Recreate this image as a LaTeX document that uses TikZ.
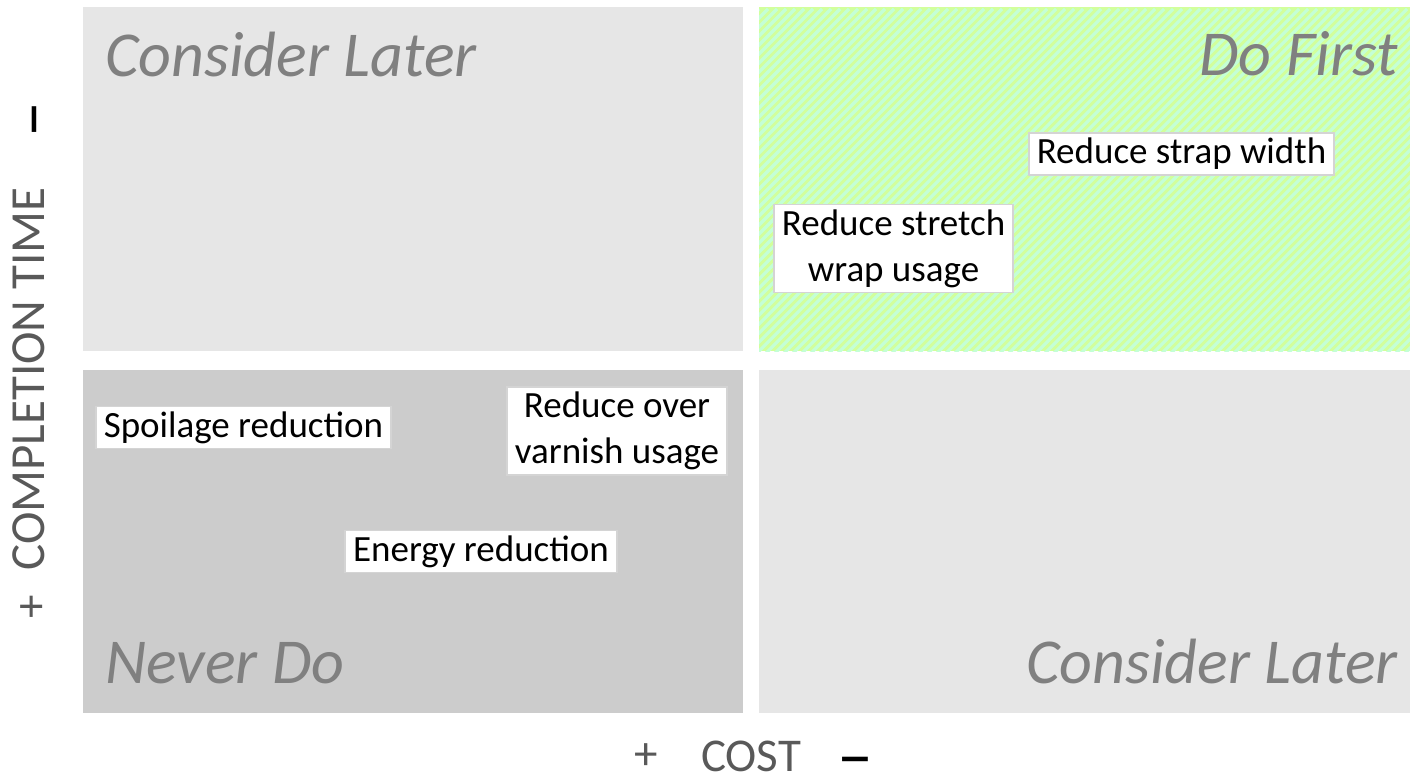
\documentclass[tikz,border=0pt]{standalone}
\usepackage{fontspec}
\setmainfont{Carlito}
\definecolor{paneLight}{HTML}{E6E6E6}
\definecolor{paneDark}{HTML}{CCCCCC}
\definecolor{paneGreen}{HTML}{D2FF9C}
\definecolor{paneMint}{HTML}{C4FFD6}
\definecolor{titleGray}{HTML}{808080}
\definecolor{axisGray}{HTML}{595959}
\definecolor{boxEdge}{HTML}{D4D4D4}
\tikzset{
  title/.style={font=\fontsize{64}{72}\selectfont\itshape, text=titleGray, inner sep=0pt},
  item/.style={draw=boxEdge, line width=1.6pt, fill=white, align=center,
    font=\fontsize{37}{46}\selectfont, text=black, inner xsep=8pt, inner ysep=5pt},
  axis/.style={font=\fontsize{47}{52}\selectfont, text=axisGray, inner sep=0pt},
  axisdash/.style={font=\fontsize{72}{74}\selectfont, text=black, inner sep=0pt},
}
\begin{document}
\begin{tikzpicture}[x=1pt, y=-1pt]
\useasboundingbox (0,0) rectangle (1410,773);
\fill[white] (0,0) rectangle (1410,773);

% quadrants
\fill[paneLight] (83,7) rectangle (743,351);
\fill[paneGreen] (759,7) rectangle (1410,351);
\begin{scope}
  \clip (759,7) rectangle (1410,351);
  \foreach \k in {0,...,120} {
    \draw[paneMint, line width=3.2pt] ({759-350+9*\k},359) -- ({759+9*\k},9);
  }
\end{scope}
\fill[paneDark] (83,370) rectangle (743,713);
\fill[paneLight] (759,370) rectangle (1410,713);

% quadrant titles
\node[title, anchor=base west] (tl) at (105,77) {Consider Later};
\node[title, anchor=base east] (tr) at (1398,76) {Do First};
\node[title, anchor=base west] (bl) at (105,683) {Never Do};
\node[title, anchor=base east] (br) at (1398,683) {Consider Later};

% items
\node[item] (strap) at (1181.5,154) {Reduce strap width};
\node[item] (stretch) at (893.5,248.5) {Reduce stretch\\wrap usage};
\node[item] (spoil) at (243.5,427.5) {Spoilage reduction};
\node[item] (varnish) at (617,431) {Reduce over\\varnish usage};
\node[item] (energy) at (481,551.5) {Energy reduction};

% axes
\node[axis] (cost) at (751,756) {COST};
\node[axis] (costplus) at (646,757) {+};
\node[axisdash] (costminus) at (855,768) {–};
\node[axis, rotate=90, font=\fontsize{49}{54}\selectfont] (time) at (29,379) {COMPLETION TIME};
\node[axis, rotate=90] (timeplus) at (34,607) {+};
\node[axisdash, rotate=90] (timeminus) at (43,120) {–};
\end{tikzpicture}
\end{document}
